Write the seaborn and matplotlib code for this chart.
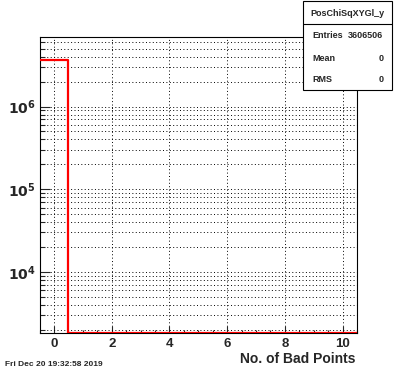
# ROOT-artiges Histogramm: PosChiSqXYGl_y
import numpy as np
import pandas as pd
import matplotlib
matplotlib.use("Agg")
import matplotlib.pyplot as plt
from matplotlib.patches import Rectangle
from matplotlib.ticker import LogLocator, FixedLocator, MultipleLocator, NullFormatter
import seaborn as sns

# Daten
bin_centers = [0, 1, 2, 3, 4, 5, 6, 7, 8, 9, 10]
counts = [3606506, 0, 0, 0, 0, 0, 0, 0, 0, 0, 0]
x_ticks = [0, 2, 4, 6, 8, 10]
y_decades = [1e4, 1e5, 1e6]
stats_title = "PosChiSqXYGl_y"
stats_labels = ["Entries", "Mean", "RMS"]
stats_values = ["3606506", "0", "0"]
x_label = "No. of Bad Points"
date_text = "Fri Dec 20 19:32:58 2019"

y_min, y_max = 1830, 6.9e6

sns.set_style("white")
plt.rcParams['font.family'] = ['Liberation Sans', 'DejaVu Sans']
plt.rcParams['font.weight'] = 'bold'

fig = plt.figure(figsize=(3.96, 3.72), dpi=100)
ax = fig.add_axes([0.1, 0.105, 0.8015, 0.795])

# Kanten der Bins und Werte (leere Bins liegen wie bei ROOT auf dem Rahmen)
edges = np.array(bin_centers, dtype=float) - 0.5
edges = np.append(edges, bin_centers[-1] + 0.5)
vals = np.clip(np.array(counts, dtype=float), y_min, None)
df = pd.DataFrame({"x": edges, "y": np.append(vals, vals[-1])})

sns.lineplot(data=df, x="x", y="y", drawstyle="steps-post", color="red",
             linewidth=1.6, ax=ax, zorder=3)

ax.set_yscale("log")
ax.set_xlim(-0.5, 10.5)
ax.set_ylim(y_min, y_max)

# Achsen
ax.xaxis.set_major_locator(FixedLocator(x_ticks))
ax.xaxis.set_minor_locator(MultipleLocator(0.5))
ax.yaxis.set_major_locator(FixedLocator(y_decades))
ax.yaxis.set_minor_locator(LogLocator(base=10, subs=np.arange(2, 10)))
ax.yaxis.set_minor_formatter(NullFormatter())
ax.set_yticklabels([r"$\mathbf{10^{%d}}$" % int(np.log10(v)) for v in y_decades])
ax.set_xticklabels([str(t) for t in x_ticks])

ax.tick_params(axis="x", which="major", direction="in", length=5, width=0.8,
               labelsize=9.5, pad=4, bottom=True, top=False)
ax.tick_params(axis="x", which="minor", direction="in", length=2.5, width=0.8,
               bottom=True, top=False)
ax.tick_params(axis="y", which="major", direction="in", length=7, width=0.8,
               labelsize=10, pad=3, left=True, right=False)
ax.tick_params(axis="y", which="minor", direction="in", length=3.5, width=0.8,
               left=True, right=False)

# Gitter
ax.grid(True, axis="x", which="major", color="black", linestyle=(0, (1, 2.5)), linewidth=0.7)
ax.grid(True, axis="y", which="both", color="black", linestyle=(0, (1, 2.5)), linewidth=0.7)

for s in ax.spines.values():
    s.set_color("black")
    s.set_linewidth(0.8)

ax.set_xlabel("")
ax.set_ylabel("")
fig.text(0.8965, 0.0234, x_label, ha="right", va="baseline", fontsize=10, fontweight="bold")
fig.text(0.012, 0.012, date_text, ha="left", va="bottom", fontsize=6, fontweight="bold")

# Statistik-Box
box_l, box_r, box_b, box_t = 0.765, 0.99, 0.758, 0.997
fig.patches.append(Rectangle((box_l, box_b), box_r - box_l, box_t - box_b,
                             transform=fig.transFigure, facecolor="white",
                             edgecolor="black", linewidth=0.8, zorder=5))
fig.add_artist(plt.Line2D([box_l, box_r], [0.935, 0.935], transform=fig.transFigure,
                          color="black", linewidth=0.8, zorder=6))
fig.text((box_l + box_r) / 2, 0.964, stats_title, ha="center", va="center",
         fontsize=6.5, fontweight="bold", zorder=7)
row_y = [0.905, 0.843, 0.785]
for lab, val, yy in zip(stats_labels, stats_values, row_y):
    fig.text(0.788, yy, lab, ha="left", va="center", fontsize=6.5, fontweight="bold", zorder=7)
    fig.text(0.968, yy, val, ha="right", va="center", fontsize=6.5, fontweight="bold", zorder=7)

fig.savefig("out.png", dpi=100)
